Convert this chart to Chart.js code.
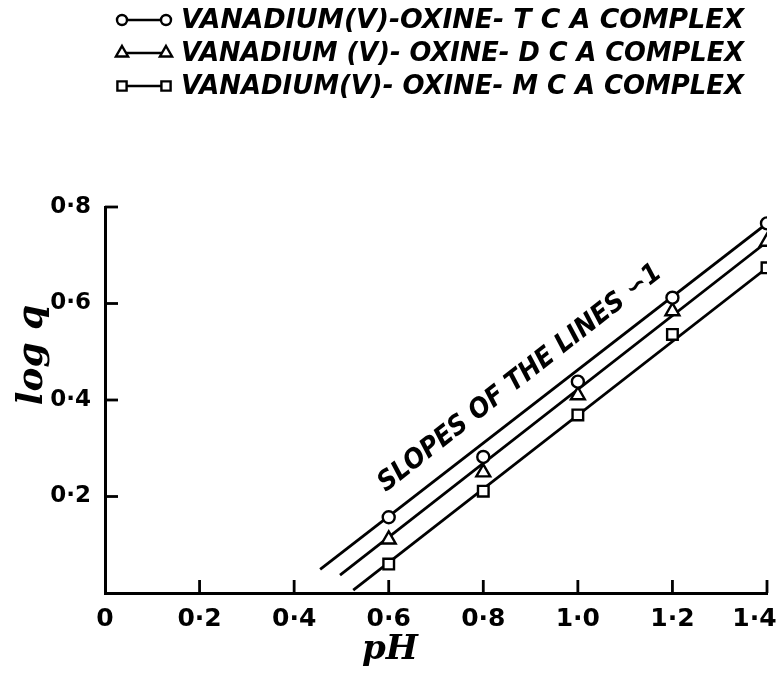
<!DOCTYPE html>
<html>
<head>
<meta charset="utf-8">
<script src="https://cdn.jsdelivr.net/npm/chart.js@4.4.1/dist/chart.umd.min.js"></script>
<style>
  html, body { margin: 0; padding: 0; background: #ffffff; }
  #wrap { width: 783px; height: 683px; position: relative; }
</style>
</head>
<body>
<div id="wrap"><canvas id="c" width="783" height="683"></canvas></div>
<script>
// ---- data ----
const phValues = [0.6, 0.8, 1.0, 1.2, 1.4];
const tcaLogQ = [0.157, 0.282, 0.438, 0.612, 0.766];
const dcaLogQ = [0.111, 0.250, 0.410, 0.584, 0.728];
const mcaLogQ = [0.060, 0.211, 0.369, 0.536, 0.674];
// fitted straight lines: start point (pH, log q); they end at the pH 1.4 point
const lineStartPh = [0.455, 0.497, 0.525];
const lineStartLogQ = [0.049, 0.037, 0.006];
const seriesNames = [
  'VANADIUM(V)-OXINE- T C A COMPLEX',
  'VANADIUM (V)- OXINE- D C A COMPLEX',
  'VANADIUM(V)- OXINE- M C A COMPLEX'
];
const xTicks = [0, 0.2, 0.4, 0.6, 0.8, 1.0, 1.2, 1.4];
const yTicks = [0.2, 0.4, 0.6, 0.8];
const annotationText = 'SLOPES OF THE LINES \u223D1';
const annotationAt = { x: 0.878, y: 0.445 };

const fmt = v => (Math.abs(v) < 1e-9 ? '0' : v.toFixed(1).replace('.', '\u00B7'));

const seriesY = [tcaLogQ, dcaLogQ, mcaLogQ];
const styles = ['circle', 'triangle', 'rect'];
const markerRadius = [6, 8, 7.5];

const datasets = [];
seriesY.forEach((ys, i) => {
  datasets.push({
    label: seriesNames[i] + ' fit',
    data: [{ x: lineStartPh[i], y: lineStartLogQ[i] },
           { x: phValues[phValues.length - 1], y: ys[ys.length - 1] }],
    showLine: true, borderColor: '#000', borderWidth: 2.8,
    pointRadius: 0, order: 2
  });
});
seriesY.forEach((ys, i) => {
  datasets.push({
    label: seriesNames[i],
    data: phValues.map((x, k) => ({ x, y: ys[k] })),
    showLine: false, pointStyle: styles[i],
    pointRadius: markerRadius[i],
    pointBackgroundColor: '#fff', pointBorderColor: '#000', pointBorderWidth: 2.4,
    order: 1
  });
});

const extras = {
  id: 'extras',
  afterDraw(chart) {
    const ctx = chart.ctx;
    const xs = chart.scales.x, ys = chart.scales.y;
    ctx.save();
    ctx.strokeStyle = '#000';
    ctx.fillStyle = '#000';
    // inward tick marks
    ctx.lineWidth = 2.8;
    xTicks.forEach(v => {
      if (v === 0) return;
      const px = xs.getPixelForValue(v);
      ctx.beginPath(); ctx.moveTo(px, ys.bottom); ctx.lineTo(px, ys.bottom - 13); ctx.stroke();
    });
    yTicks.forEach(v => {
      const py = ys.getPixelForValue(v);
      ctx.beginPath(); ctx.moveTo(xs.left, py); ctx.lineTo(xs.left + 13, py); ctx.stroke();
    });

    // legend
    const rowY = [20, 53, 86];
    seriesNames.forEach((name, i) => {
      const y = rowY[i];
      ctx.strokeStyle = '#000';
      ctx.lineWidth = 2.6;
      ctx.beginPath(); ctx.moveTo(122, y); ctx.lineTo(166, y); ctx.stroke();
      [122, 166].forEach(cx => {
        ctx.fillStyle = '#fff';
        ctx.strokeStyle = '#000';
        ctx.lineWidth = 2.4;
        Chart.helpers.drawPoint(ctx, {
          pointStyle: styles[i], radius: markerRadius[i] - 1, borderWidth: 2.4, rotation: 0
        }, cx, y);
      });
      ctx.fillStyle = '#000';
      ctx.font = 'oblique bold 27px "DejaVu Sans", sans-serif';
      ctx.textBaseline = 'middle';
      ctx.textAlign = 'left';
      const w = ctx.measureText(name).width;
      const target = 563;
      ctx.save();
      ctx.translate(181, y + 1);
      ctx.scale(target / w, 1);
      ctx.fillText(name, 0, 0);
      ctx.restore();
    });

    // annotation along the lines
    const ax = xs.getPixelForValue(annotationAt.x);
    const ay = ys.getPixelForValue(annotationAt.y);
    ctx.save();
    ctx.fillStyle = '#000';
    ctx.translate(ax, ay);
    ctx.rotate(-38 * Math.PI / 180);
    ctx.font = 'oblique bold 27px "DejaVu Sans", sans-serif';
    ctx.textAlign = 'center';
    ctx.textBaseline = 'middle';
    const aw = ctx.measureText(annotationText).width;
    ctx.scale(352 / aw, 1);
    ctx.fillText(annotationText, 0, 0);
    ctx.restore();

    // axis titles
    ctx.fillStyle = '#000';
    ctx.font = 'italic bold 34px "DejaVu Serif", serif';
    ctx.textAlign = 'center';
    ctx.textBaseline = 'middle';
    ctx.fillText('pH', 390, 650);
    ctx.save();
    ctx.translate(33, 355);
    ctx.rotate(-Math.PI / 2);
    ctx.font = 'italic bold 36px "DejaVu Serif", serif';
    ctx.fillText('log q', 0, 0);
    ctx.restore();
    ctx.restore();
  }
};

new Chart(document.getElementById('c'), {
  type: 'scatter',
  data: { datasets },
  plugins: [extras],
  options: {
    responsive: false,
    animation: false,
    layout: { padding: { left: 0, right: 16, top: 207, bottom: 0 } },
    plugins: { legend: { display: false }, tooltip: { enabled: false } },
    scales: {
      x: {
        type: 'linear', min: 0, max: 1.4,
        afterFit: s => { s.height = 90; s.paddingLeft = 0; s.paddingRight = 0; },
        afterBuildTicks: s => { s.ticks = xTicks.map(v => ({ value: v })); },
        grid: { display: false },
        border: { display: true, color: '#000', width: 3 },
        ticks: {
          color: '#000', padding: 3, maxRotation: 0, autoSkip: false,
          font: { family: '"DejaVu Sans", sans-serif', size: 25, weight: 'bold' },
          callback: v => (v >= 1.4 - 1e-9 ? fmt(v) + '\u2003' : fmt(v))
        }
      },
      y: {
        type: 'linear', min: 0, max: 0.8,
        afterFit: s => { s.width = 105; s.paddingTop = 0; s.paddingBottom = 0; },
        afterBuildTicks: s => { s.ticks = yTicks.map(v => ({ value: v })); },
        grid: { display: false },
        border: { display: true, color: '#000', width: 3 },
        ticks: {
          color: '#000', padding: 6, autoSkip: false,
          font: { family: '"DejaVu Sans", sans-serif', size: 23, weight: 'bold' },
          callback: v => fmt(v)
        }
      }
    }
  }
});
</script>
</body>
</html>
